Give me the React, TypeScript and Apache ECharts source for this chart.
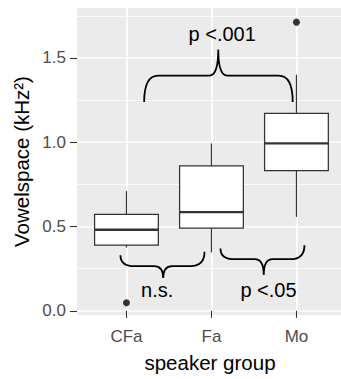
import React, { useEffect, useRef } from "react";
import * as echarts from "echarts";

const categories = ["CFa", "Fa", "Mo"];
const categoryPositions = [1, 2, 3];
// [lowerWhisker, Q1, median, Q3, upperWhisker]
const boxStats = [
  [0.375, 0.39, 0.481, 0.572, 0.71],
  [0.346, 0.49, 0.585, 0.859, 0.993],
  [0.557, 0.832, 0.993, 1.171, 1.4],
];
const outliers = [
  [1, 0.048],
  [3, 1.712],
];
const yTicks = [0, 0.5, 1.0, 1.5];
const yMinor = [0.25, 0.75, 1.25, 1.75];
// [x1, x2, xTip, yEndLeft, yEndRight, yMid, yTip]
const braces = [
  [1.208, 2.956, 2.08, 1.238, 1.238, 1.395, 1.55],
  [0.929, 1.918, 1.432, 0.33, 0.35, 0.265, 0.194],
  [2.106, 3.094, 2.615, 0.37, 0.389, 0.306, 0.213],
];
const annotationTexts = ["p <.001", "n.s.", "p <.05"];
const annotationPos = [
  [2.126, 1.642],
  [1.361, 0.123],
  [2.671, 0.123],
];

const FONT = "'Liberation Sans', Arial, Helvetica, sans-serif";

export default function App() {
  const ref = useRef<HTMLDivElement>(null);
  useEffect(() => {
    if (!ref.current) return;
    const chart = echarts.init(ref.current, undefined, { renderer: "svg" });
    const gridLineData: any[] = [
      ...yTicks.map((v) => ({ yAxis: v, lineStyle: { width: 1.6 } })),
      ...yMinor.map((v) => ({ yAxis: v, lineStyle: { width: 0.8 } })),
      ...categoryPositions.map((v) => ({ xAxis: v, lineStyle: { width: 1.6 } })),
    ];
    chart.setOption({
      animation: false,
      grid: {
        left: 77,
        right: 0,
        top: 8,
        bottom: 64,
        show: true,
        backgroundColor: "#EBEBEB",
        borderWidth: 0,
        outerBoundsMode: "none",
      },
      xAxis: {
        type: "value",
        min: 0.418,
        max: 3.524,
        axisLine: { show: false },
        splitLine: { show: false },
        axisTick: {
          show: true,
          customValues: categoryPositions,
          length: 7,
          lineStyle: { color: "#333333", width: 1.1 },
        },
        axisLabel: {
          customValues: categoryPositions,
          formatter: (v: number) => categories[Math.round(v) - 1] ?? "",
          color: "#4D4D4D",
          fontSize: 17,
          fontFamily: FONT,
          margin: 13,
        },
      },
      yAxis: {
        type: "value",
        min: -0.025,
        max: 1.796,
        axisLine: { show: false },
        splitLine: { show: false },
        axisTick: {
          show: true,
          customValues: yTicks,
          length: 7,
          lineStyle: { color: "#333333", width: 1.1 },
        },
        axisLabel: {
          customValues: yTicks,
          formatter: (v: number) => v.toFixed(1),
          color: "#4D4D4D",
          fontSize: 17,
          fontFamily: FONT,
          margin: 11,
        },
      },
      graphic: [
        {
          type: "text",
          x: 21,
          y: 161.5,
          rotation: Math.PI / 2,
          style: {
            text: "Vowelspace (kHz²)",
            fill: "#000",
            font: `20.5px ${FONT}`,
            textAlign: "center",
            textVerticalAlign: "middle",
          },
        },
        {
          type: "text",
          x: 210,
          y: 362,
          style: {
            text: "speaker group",
            fill: "#000",
            font: `20.5px ${FONT}`,
            textAlign: "center",
            textVerticalAlign: "middle",
          },
        },
      ],
      series: [
        {
          type: "line",
          z: 0,
          data: [[1, 0]],
          showSymbol: false,
          lineStyle: { opacity: 0 },
          silent: true,
          markLine: {
            z: 0,
            silent: true,
            symbol: ["none", "none"],
            label: { show: false },
            lineStyle: { color: "#FFFFFF", type: "solid" },
            emphasis: { disabled: true },
            data: gridLineData,
          },
        },
        {
          type: "custom",
          z: 10,
          silent: true,
          data: boxStats.map((s, i) => [categoryPositions[i], ...s]),
          encode: { x: 0, y: [1, 2, 3, 4, 5] },
          renderItem: (params: any, api: any) => {
            const x = api.value(0);
            const lw = api.coord([x, api.value(1)]);
            const q1 = api.coord([x, api.value(2)]);
            const med = api.coord([x, api.value(3)]);
            const q3 = api.coord([x, api.value(4)]);
            const uw = api.coord([x, api.value(5)]);
            const halfW = api.size([0.75, 0], [x, api.value(3)])[0] / 2;
            const cx = q1[0];
            const stroke = "#333333";
            return {
              type: "group",
              children: [
                { type: "line", shape: { x1: cx, y1: uw[1], x2: cx, y2: q3[1] }, style: { stroke, lineWidth: 1.2 } },
                { type: "line", shape: { x1: cx, y1: q1[1], x2: cx, y2: lw[1] }, style: { stroke, lineWidth: 1.2 } },
                {
                  type: "rect",
                  shape: { x: cx - halfW, y: q3[1], width: 2 * halfW, height: q1[1] - q3[1] },
                  style: { fill: "#FFFFFF", stroke, lineWidth: 1.25 },
                },
                { type: "line", shape: { x1: cx - halfW, y1: med[1], x2: cx + halfW, y2: med[1] }, style: { stroke, lineWidth: 2.4 } },
              ],
            };
          },
        },
        {
          type: "scatter",
          z: 11,
          silent: true,
          data: outliers,
          symbol: "circle",
          symbolSize: 7,
          itemStyle: { color: "#333333", opacity: 1 },
        },
        {
          type: "custom",
          z: 12,
          silent: true,
          data: braces,
          encode: { x: [0, 1, 2], y: [3, 4, 5, 6] },
          renderItem: (params: any, api: any) => {
            const x1 = api.value(0), x2 = api.value(1), xt = api.value(2);
            const yl = api.value(3), yr = api.value(4), ym = api.value(5), yt = api.value(6);
            const pL = api.coord([x1, yl]);
            const pR = api.coord([x2, yr]);
            const pT = api.coord([xt, yt]);
            const pM = api.coord([xt, ym]);
            const my = pM[1];
            const a = 14;
            const b = 9;
            const d =
              `M${pL[0]},${pL[1]} Q${pL[0]},${my} ${pL[0] + a},${my} ` +
              `L${pT[0] - b},${my} Q${pT[0]},${my} ${pT[0]},${pT[1]} ` +
              `Q${pT[0]},${my} ${pT[0] + b},${my} ` +
              `L${pR[0] - a},${my} Q${pR[0]},${my} ${pR[0]},${pR[1]}`;
            return {
              type: "path",
              shape: { pathData: d },
              style: { fill: "none", stroke: "#000000", lineWidth: 1.8 },
            };
          },
        },
        {
          type: "custom",
          z: 13,
          silent: true,
          data: annotationPos.map((p, i) => [p[0], p[1], i]),
          encode: { x: 0, y: 1 },
          renderItem: (params: any, api: any) => {
            const p = api.coord([api.value(0), api.value(1)]);
            return {
              type: "text",
              x: p[0],
              y: p[1],
              style: {
                text: annotationTexts[api.value(2)],
                fill: "#000000",
                font: `20px ${FONT}`,
                textAlign: "center",
                textVerticalAlign: "middle",
              },
            };
          },
        },
      ],
    });
    return () => chart.dispose();
  }, []);
  return (
    <div
      ref={ref}
      style={{ position: "absolute", left: 0, top: 0, width: 341, height: 379 }}
    />
  );
}
